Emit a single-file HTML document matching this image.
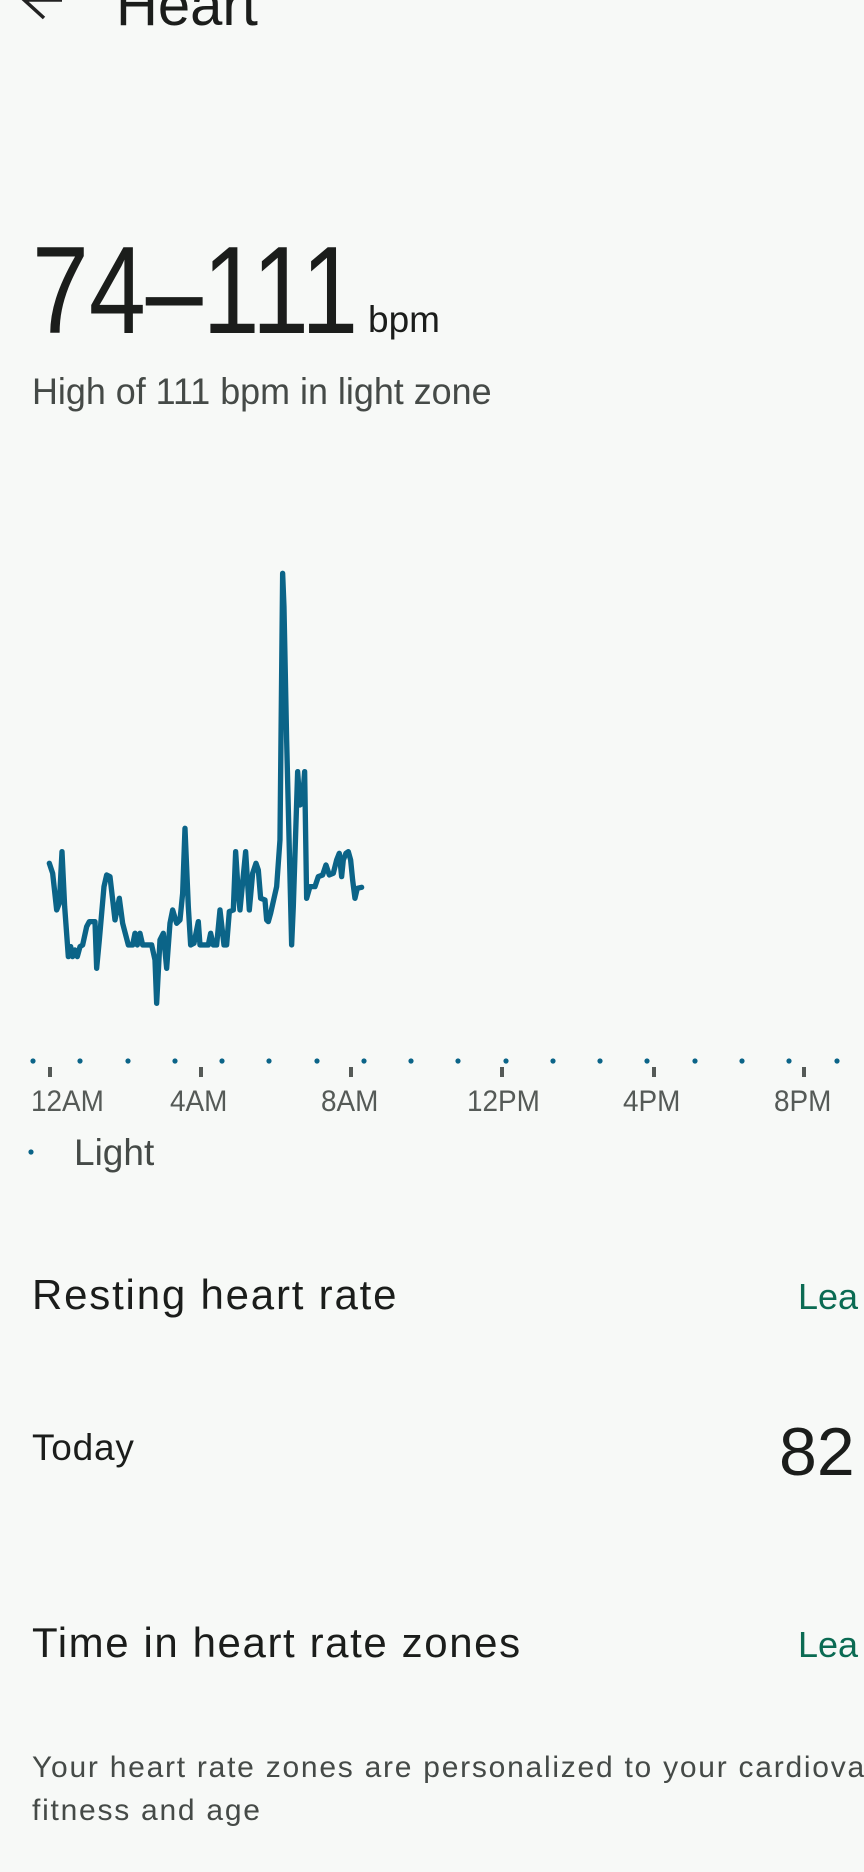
<!DOCTYPE html>
<html><head><meta charset="utf-8"><style>
html,body{margin:0;padding:0}
body{width:864px;height:1872px;background:#f7f9f7;position:relative;overflow:hidden;font-family:"Liberation Sans",sans-serif;color:#1b1d1b}
.a{position:absolute;white-space:nowrap;line-height:1}
</style></head><body>
<svg width="864" height="1872" style="position:absolute;left:0;top:0">
<path d="M22 -2 L44 18 M24 0 L62 0" stroke="#222" stroke-width="3.5" fill="none"/>
<g transform="translate(0,540) scale(0.3333)">
<polyline fill="none" stroke="#0b6488" stroke-width="16" stroke-linejoin="round" stroke-linecap="round" points="148,970 158,1000 170,1110 178,1090 186,935 194,1100 205,1250 212,1220 218,1250 225,1230 232,1250 240,1220 248,1215 260,1160 268,1145 285,1145 290,1285 298,1200 312,1040 320,1005 330,1010 345,1140 358,1075 368,1150 385,1215 398,1215 405,1180 412,1215 420,1180 428,1215 455,1215 465,1260 470,1390 480,1200 490,1180 500,1285 510,1150 518,1110 530,1150 540,1140 548,1060 555,865 565,1100 572,1215 582,1210 595,1145 600,1215 625,1215 632,1180 640,1215 650,1215 660,1110 672,1215 680,1215 688,1115 700,1110 707,935 715,1060 720,1110 737,935 748,1110 758,1000 768,970 775,990 782,1075 795,1080 800,1140 805,1145 812,1120 830,1040 840,900 848,100 852,200 860,600 875,1215 880,1100 893,695 900,795 907,790 914,695 920,1075 930,1040 945,1040 955,1010 968,1005 978,975 988,1005 1000,1000 1010,960 1018,940 1025,1010 1030,960 1038,940 1045,935 1052,960 1058,1020 1065,1075 1072,1045 1085,1042"/>
</g>
<g fill="#0b6488">
<circle cx="33" cy="1061" r="2.6"/><circle cx="80" cy="1061" r="2.6"/><circle cx="128" cy="1061" r="2.6"/><circle cx="175" cy="1061" r="2.6"/><circle cx="222" cy="1061" r="2.6"/><circle cx="269" cy="1061" r="2.6"/><circle cx="317" cy="1061" r="2.6"/><circle cx="364" cy="1061" r="2.6"/><circle cx="411" cy="1061" r="2.6"/><circle cx="458" cy="1061" r="2.6"/><circle cx="506" cy="1061" r="2.6"/><circle cx="553" cy="1061" r="2.6"/><circle cx="600" cy="1061" r="2.6"/><circle cx="647" cy="1061" r="2.6"/><circle cx="695" cy="1061" r="2.6"/><circle cx="742" cy="1061" r="2.6"/><circle cx="789" cy="1061" r="2.6"/><circle cx="837" cy="1061" r="2.6"/>
<circle cx="31" cy="1152" r="2.6"/>
</g>
<g fill="#555a57">
<rect x="48" y="1067" width="4" height="10"/><rect x="199" y="1067" width="4" height="10"/><rect x="349" y="1067" width="4" height="10"/><rect x="500" y="1067" width="4" height="10"/><rect x="652" y="1067" width="4" height="10"/><rect x="802" y="1067" width="4" height="10"/>
</g>
</svg>
<div class="a" style="left:116px;top:-23px;font-size:58px;color:#1b1d1b">Heart</div>
<div class="a" style="left:32px;top:229px;font-size:124px;transform:scaleX(0.825);transform-origin:0 0">74–111</div>
<div class="a" style="left:368px;top:301px;font-size:37px">bpm</div>
<div class="a" style="left:32px;top:373px;font-size:37px;color:#454a47;transform:scaleX(0.97);transform-origin:0 0">High of 111 bpm in light zone</div>
<div class="a" style="left:31px;top:1087px;font-size:30px;color:#555a57;transform:scaleX(0.93);transform-origin:0 0">12AM</div>
<div class="a" style="left:170px;top:1087px;font-size:30px;color:#555a57;transform:scaleX(0.93);transform-origin:0 0">4AM</div>
<div class="a" style="left:321px;top:1087px;font-size:30px;color:#555a57;transform:scaleX(0.93);transform-origin:0 0">8AM</div>
<div class="a" style="left:467px;top:1087px;font-size:30px;color:#555a57;transform:scaleX(0.93);transform-origin:0 0">12PM</div>
<div class="a" style="left:623px;top:1087px;font-size:30px;color:#555a57;transform:scaleX(0.93);transform-origin:0 0">4PM</div>
<div class="a" style="left:774px;top:1087px;font-size:30px;color:#555a57;transform:scaleX(0.93);transform-origin:0 0">8PM</div>
<div class="a" style="left:74px;top:1134px;font-size:37px;color:#454a47">Light</div>
<div class="a" style="left:32px;top:1274px;font-size:42px;color:#1b1d1b;letter-spacing:1.8px">Resting heart rate</div>
<div class="a" style="left:798px;top:1279px;font-size:36px;color:#0b6b53">Lea</div>
<div class="a" style="left:32px;top:1429px;font-size:37px;color:#1b1d1b;letter-spacing:0.8px">Today</div>
<div class="a" style="left:779px;top:1418px;font-size:68px;color:#1b1d1b">82</div>
<div class="a" style="left:32px;top:1622px;font-size:42px;color:#1b1d1b;letter-spacing:1.6px">Time in heart rate zones</div>
<div class="a" style="left:798px;top:1627px;font-size:36px;color:#0b6b53">Lea</div>
<div class="a" style="left:32px;top:1753px;font-size:30px;color:#454a47;letter-spacing:1.75px">Your heart rate zones are personalized to your cardiova</div>
<div class="a" style="left:32px;top:1796px;font-size:30px;color:#454a47;letter-spacing:1.75px">fitness and age</div>
</body></html>
